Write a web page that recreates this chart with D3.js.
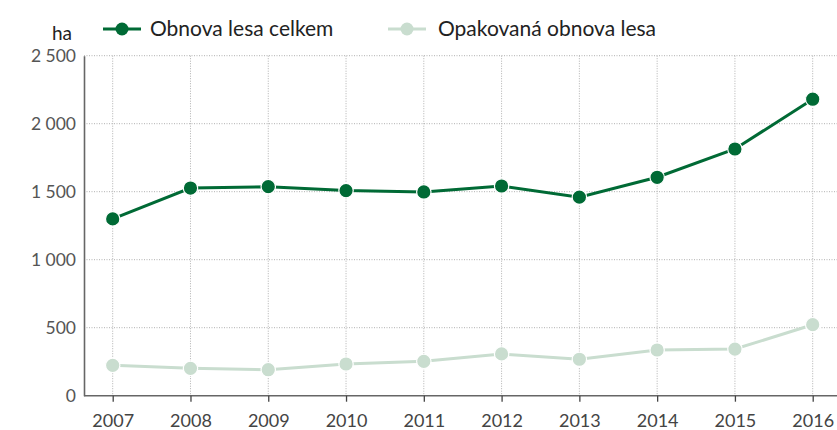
<!DOCTYPE html>
<html><head><meta charset="utf-8">
<script src="https://cdn.jsdelivr.net/npm/d3@7"></script>
<style>body{margin:0;background:#fff}svg{display:block}text{font-family:"Lato","Open Sans",sans-serif}</style>
</head><body><svg id="c" width="837" height="430"></svg>
<script>
const years = ["2007","2008","2009","2010","2011","2012","2013","2014","2015","2016"];
const obnovaCelkem = [1300,1527,1537,1508,1498,1542,1460,1606,1814,2180];
const opakovana = [223,201,191,233,253,307,268,336,343,522];
const yTicks = [0,500,1000,1500,2000,2500];
const yTickLabels = ["0","500","1 000","1 500","2 000","2 500"];
const seriesNames = ["Obnova lesa celkem","Opakovaná obnova lesa"];
const colors = ["#006a35","#c9ddcf"];

const svg = d3.select("#c");
const x0 = 84, yTop = 55.7, yBot = 395.7;
const x = d3.scalePoint().domain(years).range([112.7, 812.7]);
const y = d3.scaleLinear().domain([0,2500]).range([yBot, yTop]);

// grid
const g = svg.append("g");
g.selectAll("line.h").data(yTicks.filter(d=>d>0)).join("line")
  .attr("x1", x0).attr("x2", 837).attr("y1", d=>y(d)).attr("y2", d=>y(d))
  .attr("stroke","#b0b0b0").attr("stroke-width",1).attr("stroke-dasharray","1,1.5");
g.selectAll("line.v").data(years).join("line")
  .attr("x1", d=>x(d)).attr("x2", d=>x(d)).attr("y1", yTop).attr("y2", yBot)
  .attr("stroke","#b0b0b0").attr("stroke-width",1).attr("stroke-dasharray","1,1.5");

// y axis
const yAxis = d3.axisLeft(y).tickValues(yTicks).tickSize(0).tickPadding(8)
  .tickFormat((d,i)=>yTickLabels[i]);
const ya = svg.append("g").attr("transform",`translate(${x0},0)`).call(yAxis);
ya.select(".domain").attr("stroke","#666").attr("stroke-width",1.6);
ya.selectAll("text").attr("font-size",17.5).attr("fill","#555");

// x axis
const xAxis = d3.axisBottom(x).tickSize(6).tickPadding(6);
const xa = svg.append("g").attr("transform",`translate(0,${yBot})`).call(xAxis);
xa.select(".domain").attr("d",`M${x0},0H837`).attr("stroke","#666").attr("stroke-width",1.6);
xa.selectAll(".tick line").attr("stroke","#444").attr("stroke-width",1.3);
xa.selectAll("text").attr("font-size",18).attr("fill","#444").attr("dy","1.05em");

// unit label
svg.append("text").attr("x",72).attr("y",40).attr("text-anchor","end")
  .attr("font-size",19).attr("fill","#222").text("ha");

// lines
const line = d3.line().x((d,i)=>x(years[i])).y(d=>y(d));
[opakovana, obnovaCelkem].forEach((s,k)=>{
  const c = colors[1-k];
  svg.append("path").datum(s).attr("d",line).attr("fill","none")
    .attr("stroke",c).attr("stroke-width",3);
  svg.append("g").selectAll("circle").data(s).join("circle")
    .attr("cx",(d,i)=>x(years[i])).attr("cy",d=>y(d)).attr("r",7.2)
    .attr("fill",c).attr("stroke","#fff").attr("stroke-width",1.2);
});

// legend
const leg = [{x:103, tx:150}, {x:388, tx:438}];
seriesNames.forEach((n,i)=>{
  const L = svg.append("g");
  L.append("line").attr("x1",leg[i].x).attr("x2",leg[i].x+38).attr("y1",29).attr("y2",29)
    .attr("stroke",colors[i]).attr("stroke-width",3);
  L.append("circle").attr("cx",leg[i].x+19).attr("cy",29).attr("r",6.5).attr("fill",colors[i]);
  L.append("text").attr("x",leg[i].tx).attr("y",36).attr("font-size",21).attr("fill","#222").text(n);
});
</script></body></html>
